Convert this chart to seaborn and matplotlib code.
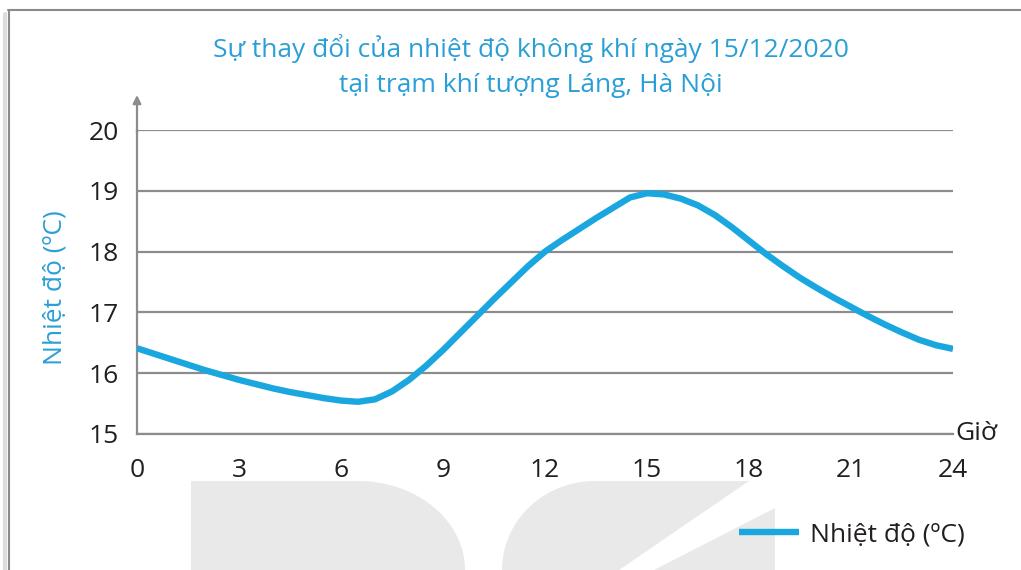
import numpy as np
import pandas as pd
import matplotlib.pyplot as plt
import seaborn as sns
from matplotlib.patches import Polygon
from matplotlib.lines import Line2D

# Data (every half hour)
hours = [h / 2 for h in range(49)]
temps = [16.41, 16.32, 16.23, 16.14, 16.05, 15.97, 15.89, 15.82, 15.75, 15.69,
         15.64, 15.59, 15.55, 15.53, 15.57, 15.70, 15.89, 16.12, 16.38, 16.66,
         16.94, 17.22, 17.49, 17.76, 18.00, 18.19, 18.37, 18.55, 18.72, 18.89,
         18.96, 18.94, 18.87, 18.76, 18.60, 18.40, 18.18, 17.96, 17.76, 17.57,
         17.40, 17.24, 17.09, 16.94, 16.80, 16.67, 16.55, 16.46, 16.40]
x_ticks = [0, 3, 6, 9, 12, 15, 18, 21, 24]
y_ticks = [15, 16, 17, 18, 19, 20]

title = 'Sự thay đổi của nhiệt độ không khí ngày 15/12/2020\ntại trạm khí tượng Láng, Hà Nội'
series_label = 'Nhiệt độ (ºC)'

df = pd.DataFrame({'Giờ': hours, 'Nhiệt độ': temps})

sns.set_style('white')
plt.rcParams['font.family'] = ['Open Sans', 'Noto Sans', 'DejaVu Sans']

blue = '#1aa7e0'
title_blue = '#2a9fd6'
grey = '#8c8c8c'
dark = '#231f20'
fs = 19

W, H = 1021, 570
fig = plt.figure(figsize=(W / 100, H / 100), dpi=100)


def px(x, y):
    return (x / W, 1 - y / H)


# watermark shapes in the background (kept under the axes)
wm = '#e9e9e9'
t = np.linspace(0, np.pi / 2, 30)
d_shape = [px(191, 570), px(191, 481)] + [px(358 + 107 * np.sin(a), 570 - 89 * np.cos(a)) for a in t]
fig.patches.append(Polygon(d_shape, closed=True, transform=fig.transFigure, fc=wm, ec='none', zorder=-5))
s2 = [px(595 - 93 * np.sin(a), 570 - 89 * np.cos(a)) for a in t[::-1]]
s2 = s2 + [px(595, 481), px(749, 481), px(619, 570)]
fig.patches.append(Polygon(s2, closed=True, transform=fig.transFigure, fc=wm, ec='none', zorder=-5))
fig.patches.append(Polygon([px(775, 508), px(775, 570), px(654, 570)], closed=True,
                           transform=fig.transFigure, fc=wm, ec='none', zorder=-5))

# frame border
fig.add_artist(Line2D([8 / W, 1], [1 - 10 / H, 1 - 10 / H], transform=fig.transFigure, color='#8a8a8a', lw=1.5))
fig.add_artist(Line2D([9 / W, 9 / W], [0, 1 - 10 / H], transform=fig.transFigure, color='#8a8a8a', lw=1.5))
fig.add_artist(Line2D([5 / W, 5 / W], [0, 1 - 14 / H], transform=fig.transFigure, color='#dcdcdc', lw=3))

ax = fig.add_axes([137 / W, 136 / H, 816 / W, 304 / H])
ax.patch.set_alpha(0)

sns.lineplot(data=df, x='Giờ', y='Nhiệt độ', ax=ax, color=blue, linewidth=4.6,
             label=series_label, solid_capstyle='butt', solid_joinstyle='round', zorder=3)

ax.set_xlim(0, 24)
ax.set_ylim(15, 20)
ax.set_xticks(x_ticks)
ax.set_yticks(y_ticks)
ax.set_xlabel('')
ax.set_ylabel('')
ax.yaxis.grid(True, color=grey, lw=1.6)
ax.xaxis.grid(False)
ax.set_axisbelow(True)
for s in ['top', 'right']:
    ax.spines[s].set_visible(False)
for s in ['left', 'bottom']:
    ax.spines[s].set_color(grey)
    ax.spines[s].set_linewidth(1.6)
ax.tick_params(axis='y', length=0, labelsize=fs, labelcolor=dark, pad=13)
ax.tick_params(axis='x', length=0, labelsize=fs, labelcolor=dark, pad=17)

# y-axis arrow
ax.annotate('', xy=(0, 1.115), xytext=(0, 0.99), xycoords='axes fraction',
            arrowprops=dict(arrowstyle='-|>', color=grey, lw=1.6, mutation_scale=12,
                            shrinkA=0, shrinkB=0),
            annotation_clip=False)

fig.text(531 / W, 1 - 66 / H, title, ha='center', va='center', color=title_blue,
         fontsize=fs, linespacing=1.55)
fig.text(55 / W, 1 - 288 / H, 'Nhiệt độ (ºC)', rotation=90, ha='center', va='center',
         color=title_blue, fontsize=fs)
fig.text(955 / W, 1 - 433 / H, 'Giờ', ha='left', va='center', color=dark, fontsize=fs)

ax.legend(loc='center left', bbox_to_anchor=(715 / W, 1 - 535 / H), bbox_transform=fig.transFigure,
          frameon=False, fontsize=fs, handlelength=2.3, handletextpad=0.4, labelcolor=dark)

fig.savefig('out.png', dpi=100)
